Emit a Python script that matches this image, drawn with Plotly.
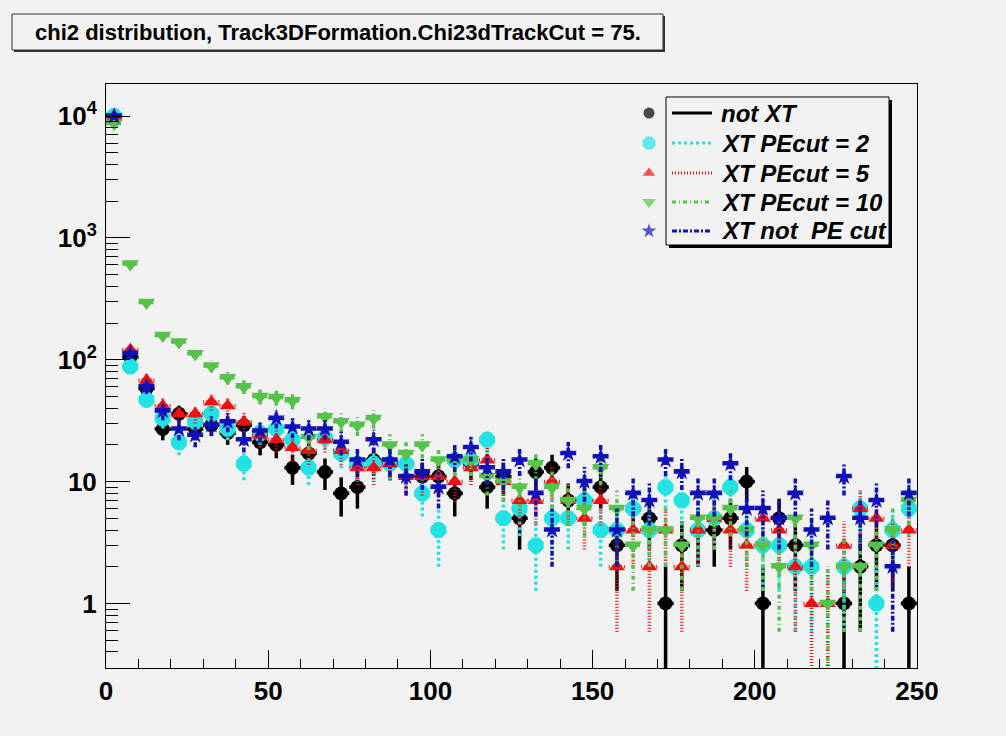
import math
import plotly.graph_objects as go

# ---------------- data ----------------
bin_start = 0.0
bin_width = 5.0
n_bins = 50
x_centers = [bin_start + bin_width * (i + 0.5) for i in range(n_bins)]

not_xt = [10000, 105, 58, 27, 36, 27, 29, 25, 29, 21,
          20, 13, 17, 12, 8, 9, 15, 14, 14, 11,
          11, 8, 14, 9, 11, 5, 12, 13, 7, 7,
          9, 3, 6, 5, 1, 3, 4, 4, 5, 10,
          1, 5, 3, 0, 0, 1, 2, 3, 3, 1]

xt_pecut2 = [10000, 88, 47, 33, 21, 31, 36, 27, 14, 25,
             27, 22, 13, 23, 17, 14, 14, 14, 14, 8,
             4, 15, 15, 22, 5, 6, 3, 5, 5, 7,
             4, 4, 6, 4, 9, 7, 4, 5, 9, 4,
             3, 3, 2, 2, 0, 2, 6, 1, 4, 6]

xt_pecut5 = [10000, 121, 68, 42, 36, 36, 45, 42, 31, 24,
             22, 19, 18, 22, 18, 13, 13, 14, 11, 11,
             11, 10, 13, 15, 10, 7, 7, 10, 7, 5,
             7, 2, 4, 2, 4, 2, 4, 5, 4, 3,
             5, 4, 2, 1, 1, 3, 6, 5, 3, 4]

xt_pecut10 = [8700, 610, 295, 158, 140, 112, 89, 71, 60, 50,
              49, 46, 23, 34, 31, 29, 33, 20, 17, 20,
              15, 15, 15, 11, 10, 9, 14, 9, 7, 6,
              13, 6, 3, 4, 4, 3, 5, 5, 6, 4,
              3, 2, 5, 3, 1, 2, 2, 3, 4, 7]

xt_no_pecut = [10000, 113, 60, 38, 27, 24, 29, 31, 22, 26,
               33, 28, 27, 27, 21, 15, 22, 15, 11, 12,
               9, 16, 19, 13, 12, 15, 8, 4, 17, 10,
               16, 4, 8, 7, 15, 12, 8, 8, 14, 6,
               6, 5, 8, 4, 5, 11, 5, 7, 2, 8]

series_labels = ["not XT", "XT PEcut = 2", "XT PEcut = 5", "XT PEcut = 10", "XT not\u00a0 PE cut"]
x_tick_values = [0, 50, 100, 150, 200, 250]
y_tick_values = [1, 10, 100, 1000, 10000]
y_tick_text = ["1", "10", "10<sup>2</sup>", "10<sup>3</sup>", "10<sup>4</sup>"]
title_text = "chi2 distribution, Track3DFormation.Chi23dTrackCut = 75."

# ---------------- styles ----------------
all_series = [not_xt, xt_pecut2, xt_pecut5, xt_pecut10, xt_no_pecut]
colors = ["#000000", "#22e3e3", "#ee1111", "#55c24a", "#1010bb"]
symbols = ["circle", "octagon", "triangle-up", "triangle-down", "star"]
msizes = [14, 17, 14, 15, 13]
legend_msizes = [11, 14, 11, 12, 11]
dashes = ["solid", "3px,3px", "1px,2px", "4px,3px,1px,3px", "5px,2px,2px,2px"]
BG = "#f2f2f2"
FONT = "Liberation Sans, Arial, Helvetica, sans-serif"

W, H = 1006, 736
L, R, T, B = 106, 89, 84, 68
PW, PH = W - L - R, H - T - B


def px(xp):
    return (xp - L) / PW


def py(yp):
    return (H - B - yp) / PH


fig = go.Figure()

for k, vals in enumerate(all_series):
    ex, ey = [], []
    mx, my = [], []
    for xc, n in zip(x_centers, vals):
        if n <= 0:
            continue
        s = math.sqrt(n)
        ex += [xc, xc, None, xc - bin_width / 2, xc + bin_width / 2, None]
        ey += [max(n - s, 1e-3), n + s, None, n, n, None]
        mx.append(xc)
        my.append(n)
    fig.add_trace(go.Scatter(
        x=ex, y=ey, mode="lines", connectgaps=False, showlegend=False,
        line=dict(color=colors[k], width=3.5, dash=dashes[k]), hoverinfo="skip"))
    fig.add_trace(go.Scatter(
        x=mx, y=my, mode="markers", showlegend=False, name=series_labels[k],
        marker=dict(symbol=symbols[k], color=colors[k], size=msizes[k], line=dict(width=0))))

# ---------------- custom ROOT-like legend ----------------
leg_rows = [113, 143, 173, 202, 231]
fig.add_trace(go.Scatter(
    x=[649] * len(series_labels), y=leg_rows, xaxis="x2", yaxis="y2",
    mode="markers", showlegend=False, hoverinfo="skip",
    marker=dict(symbol=symbols, color=colors, size=legend_msizes, line=dict(width=0))))

shapes = []
# title box with shadow
shapes.append(dict(type="rect", xref="paper", yref="paper", x0=px(14), x1=px(665), y0=py(16), y1=py(52),
                   fillcolor="#333333", line=dict(width=0), layer="above"))
shapes.append(dict(type="rect", xref="paper", yref="paper", x0=px(12), x1=px(663), y0=py(14), y1=py(50),
                   fillcolor=BG, line=dict(color="#333333", width=1), layer="above"))
# legend box with shadow
shapes.append(dict(type="rect", xref="paper", yref="paper", x0=px(669), x1=px(892), y0=py(100), y1=py(248),
                   fillcolor="#000000", line=dict(width=0), layer="above"))
shapes.append(dict(type="rect", xref="paper", yref="paper", x0=px(666), x1=px(889), y0=py(97), y1=py(245),
                   fillcolor=BG, line=dict(color="#000000", width=1), layer="above"))
for k, yy in enumerate(leg_rows):
    shapes.append(dict(type="line", xref="paper", yref="paper", x0=px(672), x1=px(712), y0=py(yy), y1=py(yy),
                       line=dict(color=colors[k], width=3, dash=dashes[k]), layer="above"))

annotations = [dict(text=title_text, xref="paper", yref="paper", x=px(337.5), y=py(32),
                    xanchor="center", yanchor="middle", showarrow=False,
                    font=dict(family=FONT, size=22, color="black", weight="bold"))]
for k, yy in enumerate(leg_rows):
    annotations.append(dict(text=series_labels[k], xref="paper", yref="paper", x=px(719), y=py(yy),
                            xanchor="left", yanchor="middle", showarrow=False,
                            font=dict(family=FONT, size=24, color="black", weight="bold", style="italic")))

minor_y = [m * 10 ** d for d in range(-1, 5) for m in range(2, 10)]

fig.update_layout(
    width=W, height=H, autosize=False,
    margin=dict(l=L, r=R, t=T, b=B, pad=0),
    paper_bgcolor=BG, plot_bgcolor=BG,
    showlegend=False,
    shapes=shapes, annotations=annotations,
    xaxis=dict(range=[0, 250], showgrid=False, zeroline=False,
               showline=True, linecolor="black", linewidth=1, mirror=True,
               ticks="inside", ticklen=18, tickwidth=1, tickcolor="black",
               tickmode="array", tickvals=x_tick_values,
               tickfont=dict(family=FONT, size=26, color="black", weight="bold"),
               ticklabelstandoff=0,
               minor=dict(ticks="inside", ticklen=9, tickwidth=1, tickcolor="black", dtick=10, tick0=0, showgrid=False)),
    yaxis=dict(type="log", range=[-0.53, 4.263], showgrid=False, zeroline=False,
               showline=True, linecolor="black", linewidth=1, mirror=True,
               ticks="inside", ticklen=24, tickwidth=1, tickcolor="black",
               tickmode="array", tickvals=y_tick_values, ticktext=y_tick_text,
               tickfont=dict(family=FONT, size=26, color="black", weight="bold"),
               ticklabelstandoff=3,
               minor=dict(ticks="inside", ticklen=12, tickwidth=1, tickcolor="black",
                          tickmode="array", tickvals=minor_y, showgrid=False)),
    xaxis2=dict(overlaying="x", range=[L, W - R], visible=False, fixedrange=True),
    yaxis2=dict(overlaying="y", range=[H - B, T], visible=False, fixedrange=True),
)

fig.write_html(
    "out.html",
    config={"displayModeBar": False},
    post_script="document.body.style.margin='0';document.body.style.overflow='hidden';"
                "document.body.style.background='#f2f2f2';",
)
